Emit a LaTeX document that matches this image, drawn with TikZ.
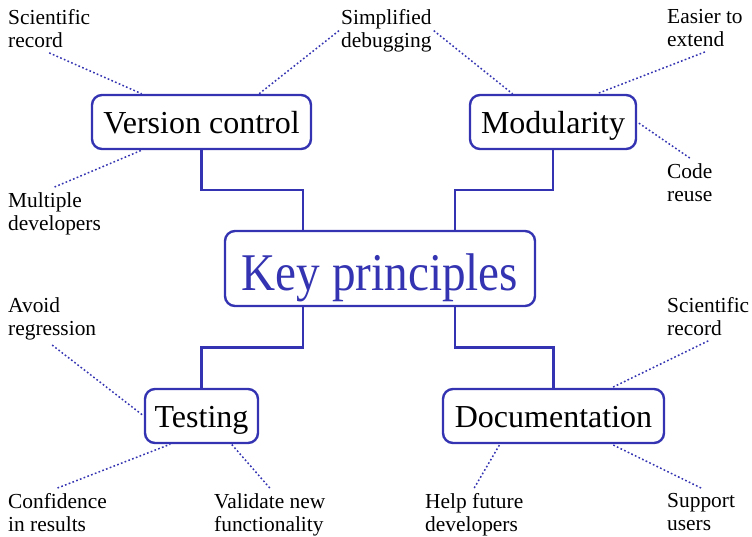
\documentclass[tikz,border=0pt]{standalone}
\usepackage{fontspec}
\setmainfont{Liberation Serif}
\newfontfamily\keyfont[FakeStretch = 0.89]{Liberation Serif}
\usetikzlibrary{calc}
\definecolor{mapblue}{RGB}{52,52,178}

\begin{document}
\begin{tikzpicture}[x = 1pt, y = 1pt,
	topic/.style = {draw = mapblue, line width = 2.4pt, rounded corners = 10pt, fill = white, minimum height = 54pt, inner sep = 0pt, text height = 22pt, text depth = 0pt, font = \fontsize{32}{36}\selectfont},
	note/.style = {anchor = north west, align = left, inner xsep = 2pt, inner ysep = 5pt, font = \fontsize{21.4}{23.2}\selectfont},
	link/.style = {draw = mapblue, line width = 2.4pt},
	hint/.style = {draw = mapblue, line width = 1.5pt, dash pattern = on 1.7pt off 2.3pt}]%mind map
	\useasboundingbox (0,0) rectangle (752,-536);
	% centre and the four topics
	\node[topic, minimum width = 310pt, minimum height = 75pt, text height = 43pt, text = mapblue, font = \keyfont\fontsize{53}{60}\selectfont](KEY) at (380,-268.5){Key principles};
	\node[topic, minimum width = 219pt](VC) at (201.5,-122){Version control};
	\node[topic, minimum width = 166pt](MOD) at (553,-122){Modularity};
	\node[topic, minimum width = 113pt](TEST) at (201.5,-416){Testing};
	\node[topic, minimum width = 221pt](DOC) at (553.5,-416){Documentation};
	% notes
	\node[note](RECORD) at (6,-4){Scientific\\record};
	\node[note](DEBUG) at (339,-4){Simplified\\debugging};
	\node[note](EXTEND) at (665,-4){Easier to\\extend};
	\node[note](TEAM) at (6,-187){Multiple\\developers};
	\node[note](REUSE) at (665,-158){Code\\reuse};
	\node[note](REGRESS) at (6,-292){Avoid\\regression};
	\node[note](RECORDB) at (665,-292){Scientific\\record};
	\node[note](CONFIDENCE) at (6,-488){Confidence\\in results};
	\node[note](VALIDATE) at (212,-488){Validate new\\functionality};
	\node[note](FUTURE) at (423,-488){Help future\\developers};
	\node[note](USERS) at (665,-488){Support\\users};
	% branches
	\coordinate (K1) at ([xshift = -77pt]KEY.north);
	\coordinate (K2) at ([xshift = 75pt]KEY.north);
	\coordinate (K3) at ([xshift = -77pt]KEY.south);
	\coordinate (K4) at ([xshift = 75pt]KEY.south);
	\draw[link] (VC.south) |- ($(VC.south)!.5!(K1)$) -| (K1);
	\draw[link] (MOD.south) |- ($(MOD.south)!.5!(K2)$) -| (K2);
	\draw[link] (K3) |- ($(K3)!.5!(TEST.north)$) -| (TEST.north);
	\draw[link] (K4) |- ($(K4)!.5!(DOC.north)$) -| (DOC.north);
	% dotted hints
	\draw[hint] (RECORD.south) -- ($(VC.north west)!.23!(VC.north east)$);
	\draw[hint] (DEBUG.west) -- ($(VC.north west)!.76!(VC.north east)$);
	\draw[hint] (TEAM.north) -- ($(VC.south west)!.23!(VC.south east)$);
	\draw[hint] (DEBUG.east) -- ($(MOD.north west)!.26!(MOD.north east)$);
	\draw[hint] (EXTEND.south) -- ($(MOD.north west)!.76!(MOD.north east)$);
	\draw[hint] (REUSE.north) -- (MOD.east);
	\draw[hint] (REGRESS.south) -- (TEST.west);
	\draw[hint] (CONFIDENCE.north) -- ($(TEST.south west)!.23!(TEST.south east)$);
	\draw[hint] (VALIDATE.north) -- ($(TEST.south west)!.76!(TEST.south east)$);
	\draw[hint] (RECORDB.south) -- ($(DOC.north west)!.76!(DOC.north east)$);
	\draw[hint] (FUTURE.north) -- ($(DOC.south west)!.26!(DOC.south east)$);
	\draw[hint] (USERS.north) -- ($(DOC.south west)!.76!(DOC.south east)$);
\end{tikzpicture}
\end{document}
